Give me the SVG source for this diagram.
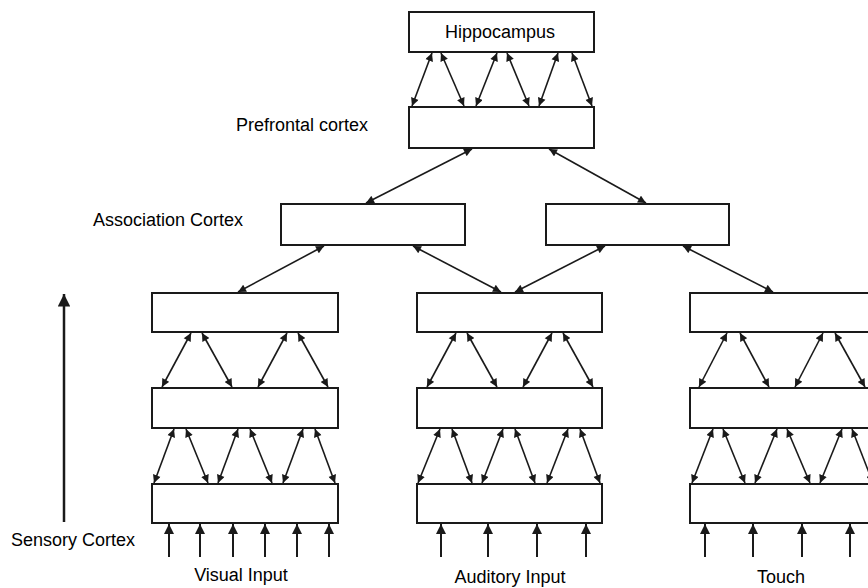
<svg xmlns="http://www.w3.org/2000/svg" width="868" height="588" viewBox="0 0 868 588">
<style>
.box{fill:#fff;stroke:#1a1a1a;stroke-width:2}
.lbl{font-family:"Liberation Sans",Arial,sans-serif;font-size:18px;fill:#000}
.c{stroke:#1a1a1a;stroke-width:1.6;fill:none;marker-start:url(#ah);marker-end:url(#ah)}
.in{stroke:#1a1a1a;stroke-width:2;fill:none;marker-end:url(#ah)}
</style>
<defs>
<marker id="ah" viewBox="0 0 10 10" refX="10" refY="5" markerWidth="5.5" markerHeight="5" orient="auto-start-reverse" markerUnits="strokeWidth">
<path d="M0,0 L10,5 L0,10 z" fill="#1a1a1a"/>
</marker>
</defs>
<rect width="868" height="588" fill="#fff"/>
<g id="labels">
<text class="lbl" x="302" y="131" text-anchor="middle">Prefrontal cortex</text>
<text class="lbl" x="168" y="226" text-anchor="middle">Association Cortex</text>
<text class="lbl" x="73" y="546" text-anchor="middle">Sensory Cortex</text>
<text class="lbl" x="241" y="581" text-anchor="middle">Visual Input</text>
<text class="lbl" x="510" y="583" text-anchor="middle">Auditory Input</text>
<text class="lbl" x="781" y="583" text-anchor="middle">Touch</text>
</g>
<g id="hippocampus"><rect class="box" x="409" y="12" width="185" height="40"/><text class="lbl" x="500" y="38" text-anchor="middle">Hippocampus</text></g>
<g id="prefrontal"><rect class="box" x="409" y="107" width="185" height="41"/></g>
<g id="assoc-left"><rect class="box" x="281" y="204" width="184" height="41"/></g>
<g id="assoc-right"><rect class="box" x="546" y="204" width="183" height="41"/></g>
<g id="visual-top"><rect class="box" x="152" y="293" width="186" height="39"/></g>
<g id="visual-mid"><rect class="box" x="152" y="388" width="186" height="40"/></g>
<g id="visual-bottom"><rect class="box" x="152" y="484" width="186" height="39"/></g>
<g id="auditory-top"><rect class="box" x="417" y="293" width="185" height="39"/></g>
<g id="auditory-mid"><rect class="box" x="417" y="388" width="185" height="40"/></g>
<g id="auditory-bottom"><rect class="box" x="417" y="484" width="185" height="39"/></g>
<g id="touch-top"><rect class="box" x="690" y="293" width="186" height="39"/></g>
<g id="touch-mid"><rect class="box" x="690" y="388" width="186" height="40"/></g>
<g id="touch-bottom"><rect class="box" x="690" y="484" width="186" height="39"/></g>
<g id="connectors">
<line class="c" x1="412" y1="106" x2="432" y2="53"/>
<line class="c" x1="441" y1="53" x2="464" y2="106"/>
<line class="c" x1="476" y1="106" x2="497" y2="53"/>
<line class="c" x1="507" y1="53" x2="529" y2="106"/>
<line class="c" x1="539" y1="106" x2="558" y2="53"/>
<line class="c" x1="572" y1="53" x2="592" y2="106"/>
<line class="c" x1="472" y1="149" x2="366" y2="203"/>
<line class="c" x1="549" y1="149" x2="646" y2="203"/>
<line class="c" x1="324" y1="246" x2="238" y2="292"/>
<line class="c" x1="413" y1="246" x2="501" y2="292"/>
<line class="c" x1="605" y1="246" x2="515" y2="292"/>
<line class="c" x1="683" y1="246" x2="773" y2="292"/>
<line class="c" x1="162" y1="387" x2="191" y2="333"/>
<line class="c" x1="202" y1="333" x2="232" y2="387"/>
<line class="c" x1="258" y1="387" x2="287" y2="333"/>
<line class="c" x1="298" y1="333" x2="328" y2="387"/>
<line class="c" x1="154" y1="483" x2="174" y2="429"/>
<line class="c" x1="186" y1="429" x2="208" y2="483"/>
<line class="c" x1="218" y1="483" x2="238" y2="429"/>
<line class="c" x1="250" y1="429" x2="272" y2="483"/>
<line class="c" x1="283" y1="483" x2="303" y2="429"/>
<line class="c" x1="315" y1="429" x2="335" y2="483"/>
<line class="c" x1="427" y1="387" x2="456" y2="333"/>
<line class="c" x1="467" y1="333" x2="497" y2="387"/>
<line class="c" x1="523" y1="387" x2="552" y2="333"/>
<line class="c" x1="563" y1="333" x2="593" y2="387"/>
<line class="c" x1="418" y1="483" x2="440" y2="429"/>
<line class="c" x1="452" y1="429" x2="472" y2="483"/>
<line class="c" x1="482" y1="483" x2="503" y2="429"/>
<line class="c" x1="515" y1="429" x2="535" y2="483"/>
<line class="c" x1="547" y1="483" x2="568" y2="429"/>
<line class="c" x1="580" y1="429" x2="600" y2="483"/>
<line class="c" x1="699" y1="387" x2="727" y2="333"/>
<line class="c" x1="740" y1="333" x2="769" y2="387"/>
<line class="c" x1="795" y1="387" x2="823" y2="333"/>
<line class="c" x1="835" y1="333" x2="865" y2="387"/>
<line class="c" x1="692" y1="483" x2="713" y2="429"/>
<line class="c" x1="723" y1="429" x2="745" y2="483"/>
<line class="c" x1="755" y1="483" x2="777" y2="429"/>
<line class="c" x1="787" y1="429" x2="810" y2="483"/>
<line class="c" x1="820" y1="483" x2="842" y2="429"/>
<line class="c" x1="852" y1="429" x2="873" y2="483"/>
<line class="in" x1="169" y1="557" x2="169" y2="524"/>
<line class="in" x1="200" y1="557" x2="200" y2="524"/>
<line class="in" x1="233" y1="557" x2="233" y2="524"/>
<line class="in" x1="265" y1="557" x2="265" y2="524"/>
<line class="in" x1="297" y1="557" x2="297" y2="524"/>
<line class="in" x1="329" y1="557" x2="329" y2="524"/>
<line class="in" x1="441" y1="557" x2="441" y2="524"/>
<line class="in" x1="488" y1="557" x2="488" y2="524"/>
<line class="in" x1="537" y1="557" x2="537" y2="524"/>
<line class="in" x1="586" y1="557" x2="586" y2="524"/>
<line class="in" x1="705" y1="557" x2="705" y2="524"/>
<line class="in" x1="753" y1="557" x2="753" y2="524"/>
<line class="in" x1="802" y1="557" x2="802" y2="524"/>
<line class="in" x1="850" y1="557" x2="850" y2="524"/>
<line x1="64" y1="522" x2="64" y2="294" stroke="#1a1a1a" stroke-width="2.5" marker-end="url(#ah)"/>
</g>
</svg>
